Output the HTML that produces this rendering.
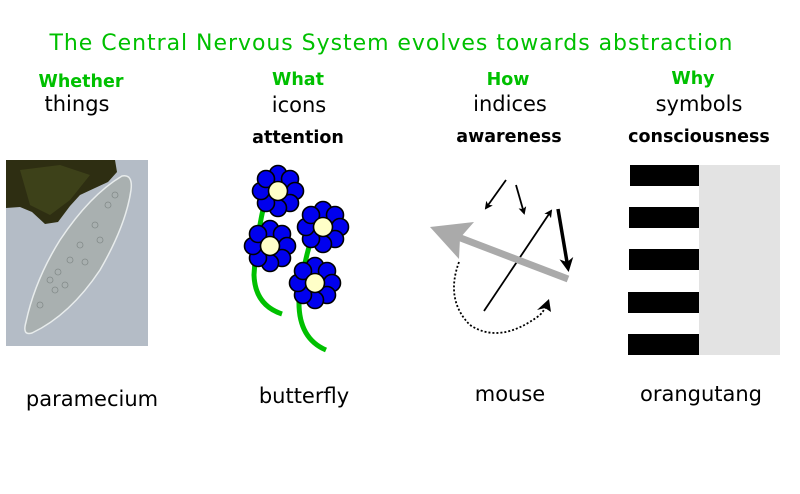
<!DOCTYPE html>
<html><head><meta charset="utf-8"><style>
html,body{margin:0;padding:0;background:#fff;width:800px;height:494px;overflow:hidden}
text{font-family:"DejaVu Sans","Liberation Sans",sans-serif}
</style></head><body>
<svg width="800" height="494" viewBox="0 0 800 494" xmlns="http://www.w3.org/2000/svg">
<defs>
<marker id="ah" markerWidth="8" markerHeight="8" refX="6" refY="4" orient="auto" markerUnits="userSpaceOnUse" viewBox="0 0 8 8"><path d="M0,0 L8,4 L0,8 L2,4 z" fill="#000"/></marker>
<marker id="ah2" markerWidth="14" markerHeight="14" refX="10" refY="7" orient="auto" markerUnits="userSpaceOnUse" viewBox="0 0 14 14"><path d="M0,0 L14,7 L0,14 L4,7 z" fill="#000"/></marker>
<g id="fl">
<g fill="#0000ee" stroke="#000" stroke-width="1.6">
<circle cx="0" cy="-17" r="8.5"/><circle cx="12" cy="-12" r="8.5"/><circle cx="17" cy="0" r="8.5"/><circle cx="12" cy="12" r="8.5"/>
<circle cx="0" cy="17" r="8.5"/><circle cx="-12" cy="12" r="8.5"/><circle cx="-17" cy="0" r="8.5"/><circle cx="-12" cy="-12" r="8.5"/>
</g>
<circle r="9.5" fill="#ffffc8" stroke="#000" stroke-width="1.6"/>
</g>
</defs>
<text x="391" y="50" font-size="22" fill="#00c000" text-anchor="middle" textLength="683">The Central Nervous System evolves towards abstraction</text>

<g font-size="17.5" font-weight="bold" fill="#00c000" text-anchor="middle">
<text x="81" y="87">Whether</text><text x="298" y="85">What</text><text x="508" y="85">How</text><text x="693" y="84">Why</text>
</g>
<g font-size="21" fill="#000" text-anchor="middle">
<text x="77" y="111">things</text><text x="299" y="112">icons</text><text x="510" y="111">indices</text><text x="699" y="111">symbols</text>
</g>
<g font-size="17.5" font-weight="bold" fill="#000" text-anchor="middle">
<text x="298" y="143">attention</text><text x="509" y="142">awareness</text><text x="699" y="142">consciousness</text>
</g>
<g font-size="21" fill="#000" text-anchor="middle">
<text x="92" y="406">paramecium</text><text x="304" y="403">butterfly</text><text x="510" y="401">mouse</text><text x="701" y="401">orangutang</text>
</g>

<!-- paramecium -->
<rect x="6" y="160" width="142" height="186" fill="#b4bcc6"/>
<path d="M6,160 L115,160 L117,172 L108,182 L95,188 L80,195 L70,206 L58,222 L45,224 L32,212 L20,207 L6,208 z" fill="#2e2e12"/>
<path d="M20,170 L60,165 L90,175 L70,200 L50,215 L30,205 z" fill="#454a1c" opacity=".7"/>
<path d="M122,176 Q133,174 131,190 Q126,225 100,270 Q70,315 32,333 Q22,336 26,322 Q35,280 60,240 Q90,195 122,176 z" fill="#a9b0b0" stroke="#e8ecec" stroke-width="1.5"/>
<g fill="none" stroke="#7a8280" stroke-width="0.8" opacity=".8">
<circle cx="50" cy="280" r="3"/><circle cx="58" cy="272" r="3"/><circle cx="55" cy="290" r="3"/><circle cx="70" cy="260" r="3"/><circle cx="80" cy="245" r="3"/><circle cx="95" cy="225" r="3"/><circle cx="108" cy="205" r="3"/><circle cx="40" cy="305" r="3"/><circle cx="65" cy="285" r="3"/><circle cx="85" cy="262" r="3"/><circle cx="100" cy="240" r="3"/><circle cx="115" cy="195" r="3"/>
</g>

<!-- flowers -->
<g fill="none" stroke="#00c000" stroke-width="5" stroke-linecap="butt">
<path d="M264,205 Q256,240 254,275 Q255,305 282,314"/>
<path d="M311,240 Q302,270 299,300 Q298,338 326,350"/>
</g>
<use href="#fl" x="278" y="191"/>
<use href="#fl" x="323" y="227"/>
<use href="#fl" x="270" y="246"/>
<use href="#fl" x="315" y="283"/>

<!-- mouse arrows -->
<line x1="506" y1="180" x2="486" y2="208" stroke="#000" stroke-width="1.8" marker-end="url(#ah)"/>
<line x1="516" y1="185" x2="524" y2="213" stroke="#000" stroke-width="1.8" marker-end="url(#ah)"/>
<line x1="484" y1="311" x2="551" y2="211" stroke="#000" stroke-width="1.8" marker-end="url(#ah)"/>
<line x1="558" y1="209" x2="568" y2="268" stroke="#000" stroke-width="3.5" marker-end="url(#ah2)"/>
<line x1="568" y1="279" x2="458" y2="237" stroke="#aaa" stroke-width="7"/>
<path d="M430,227 L474,222 L460,238 L459,259 z" fill="#aaa"/>
<path d="M459,262 Q445,300 470,325 Q500,345 540,315 Q546,308 547,304" fill="none" stroke="#000" stroke-width="1.8" stroke-dasharray="2,2"/>
<path d="M549,299 L551,312 L545,308 L537,310 z" fill="#000"/>

<!-- orangutang stripes -->
<rect x="699" y="165" width="81" height="190" fill="#e3e3e3"/>
<g fill="#000">
<rect x="630" y="165" width="69" height="21"/>
<rect x="629" y="207" width="70" height="21"/>
<rect x="629" y="249" width="70" height="21"/>
<rect x="628" y="292" width="71" height="21"/>
<rect x="628" y="334" width="71" height="21"/>
</g>
</svg>
</body></html>
